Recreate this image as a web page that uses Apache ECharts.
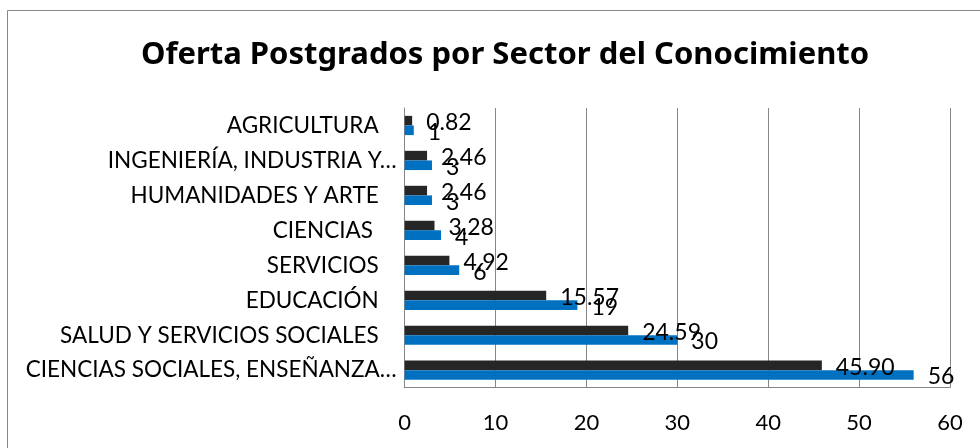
<!DOCTYPE html>
<html>
<head>
<meta charset="utf-8">
<script src="https://cdn.jsdelivr.net/npm/echarts@6/dist/echarts.min.js"></script>
<style>
  html, body { margin: 0; padding: 0; background: #fff; }
  #chart { width: 980px; height: 448px; }
</style>
</head>
<body>
<div id="chart"></div>
<script>
// categories from bottom to top
var categories = [
  'CIENCIAS SOCIALES, ENSEÑANZA…',
  'SALUD Y SERVICIOS SOCIALES',
  'EDUCACIÓN',
  'SERVICIOS',
  'CIENCIAS ',
  'HUMANIDADES Y ARTE',
  'INGENIERÍA, INDUSTRIA Y…',
  'AGRICULTURA'
];
var porcentaje = [45.90, 24.59, 15.57, 4.92, 3.28, 2.46, 2.46, 0.82];
var programas = [56, 30, 19, 6, 4, 3, 3, 1];
var xTicks = [0, 10, 20, 30, 40, 50, 60];

var fontFam = 'Lato';
var chart = echarts.init(document.getElementById('chart'));

var option = {
  backgroundColor: '#fff',
  animation: false,
  title: {
    text: 'Oferta Postgrados por Sector del Conocimiento',
    left: 500,
    top: 35,
    textAlign: 'center',
    textStyle: { fontFamily: 'Noto Sans', fontWeight: 'bold', fontSize: 31, color: '#000' }
  },
  graphic: [{
    type: 'rect',
    shape: { x: 7.5, y: 10.5, width: 1000, height: 500 },
    style: { fill: 'none', stroke: '#888', lineWidth: 1 },
    silent: true
  }],
  grid: { left: 404.7, right: 30, top: 108, bottom: 60.3, containLabel: false },
  xAxis: {
    type: 'value',
    min: xTicks[0],
    max: xTicks[xTicks.length - 1],
    interval: 10,
    axisLine: { show: true, lineStyle: { color: '#868686' } },
    axisTick: { show: false },
    axisLabel: { margin: 24, fontFamily: fontFam, fontSize: 22, color: '#000' },
    splitLine: { show: true, lineStyle: { color: '#868686', width: 1 } }
  },
  yAxis: {
    type: 'category',
    data: categories,
    axisLine: { show: true, lineStyle: { color: '#868686' } },
    axisTick: { show: false },
    axisLabel: {
      margin: 8,
      fontFamily: fontFam,
      fontSize: 22.5,
      color: '#000',
      formatter: function (v) {
        return v.slice(-1) === '…' ? v : '{n|' + v + '}';
      },
      rich: {
        n: { fontFamily: fontFam, fontSize: 22.5, color: '#000', padding: [0, 18, 0, 0] }
      }
    }
  },
  series: [
    {
      name: 'Porcentaje',
      type: 'bar',
      data: porcentaje,
      barGap: '0%',
      barCategoryGap: '45%',
      itemStyle: { color: '#262626' },
      label: {
        show: true, position: 'right', distance: 14, offset: [0, 2],
        fontFamily: fontFam, fontSize: 23, color: '#000',
        formatter: function (p) { return p.value.toFixed(2); }
      }
    },
    {
      name: 'Programas',
      type: 'bar',
      data: programas,
      barGap: '0%',
      barCategoryGap: '45%',
      itemStyle: { color: '#0070C0' },
      label: {
        show: true, position: 'right', distance: 14, offset: [0, 2],
        fontFamily: fontFam, fontSize: 23, color: '#000'
      }
    }
  ]
};

chart.setOption(option);
</script>
</body>
</html>
